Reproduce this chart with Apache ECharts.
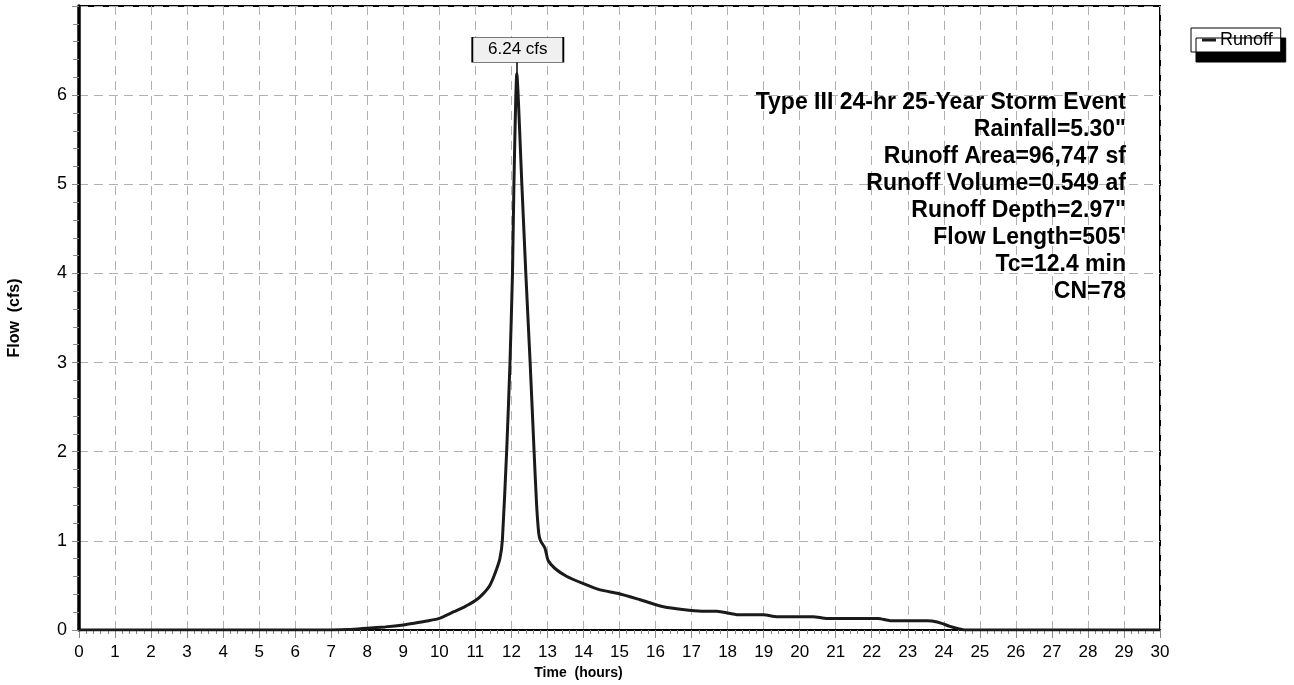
<!DOCTYPE html>
<html>
<head>
<meta charset="utf-8">
<script src="https://cdn.jsdelivr.net/npm/echarts@6/dist/echarts.min.js"></script>
<style>
  html, body { margin: 0; padding: 0; background: #fff; }
  #chart { width: 1294px; height: 685px; }
</style>
</head>
<body>
<div id="chart"></div>
<script>
// Hydrograph data (time in hours, flow in cfs)
var times = [0, 1, 2, 3, 4, 5, 6, 7, 7.5, 8, 8.5, 9, 9.3, 9.65, 10, 10.4, 10.7, 11, 11.2, 11.4, 11.55, 11.68, 11.75, 11.87, 11.96, 12.03, 12.07, 12.15, 12.29, 12.40, 12.52, 12.63, 12.70, 12.76, 12.81, 12.93, 13.02, 13.21, 13.54, 14.0, 14.46, 14.97, 15.57, 16.22, 17.28, 17.7, 18.3, 19.0, 19.36, 20.38, 20.75, 22.18, 22.51, 23.53, 23.67, 23.94, 24.17, 24.4, 24.6, 25, 30];
var flows = [0, 0, 0, 0, 0, 0, 0, 0, 0.005, 0.02, 0.035, 0.056, 0.075, 0.10, 0.13, 0.205, 0.26, 0.33, 0.40, 0.50, 0.64, 0.80, 1.01, 2.02, 2.99, 4.0, 5.0, 6.24, 5.0, 4.0, 3.0, 2.0, 1.4, 1.08, 1.0, 0.92, 0.78, 0.69, 0.60, 0.52, 0.45, 0.41, 0.34, 0.26, 0.21, 0.21, 0.17, 0.17, 0.15, 0.15, 0.13, 0.13, 0.105, 0.105, 0.10, 0.075, 0.04, 0.015, 0, 0, 0];
var seriesName = 'Runoff';
var peakTime = 12.15;
var peakFlow = 6.24;
var peakLabel = '6.24 cfs';
var infoLines = [
  'Type III 24-hr 25-Year Storm Event',
  'Rainfall=5.30"',
  'Runoff Area=96,747 sf',
  'Runoff Volume=0.549 af',
  'Runoff Depth=2.97"',
  'Flow Length=505\'',
  'Tc=12.4 min',
  'CN=78'
];
var xName = 'Time  (hours)';
var yName = 'Flow  (cfs)';

var points = times.map(function (t, i) { return [t, flows[i]]; });
var FONT = 'Arial, "Liberation Sans", sans-serif';

var chart = echarts.init(document.getElementById('chart'), null, { renderer: 'canvas' });

var graphics = infoLines.map(function (s, i) {
  return {
    type: 'text',
    x: 1126,
    y: 103 + i * 27,
    style: {
      x: 0, y: 0,
      text: s,
      fill: '#000',
      font: 'bold 23px ' + FONT,
      align: 'right',
      verticalAlign: 'middle'
    },
    z: 10
  };
});

var option = {
  animation: false,
  backgroundColor: '#fff',
  grid: {
    left: 79, right: 134, top: 6, bottom: 55,
    outerBoundsMode: 'none',
    containLabel: false,
    show: true, borderColor: '#000', borderWidth: 2, backgroundColor: 'transparent'
  },
  legend: {
    data: [seriesName],
    left: 1191, top: 28,
    orient: 'vertical',
    icon: 'rect',
    itemWidth: 14, itemHeight: 3,
    itemGap: 0,
    padding: [3, 8, 3, 11],
    backgroundColor: '#fff',
    borderColor: '#000', borderWidth: 1,
    shadowColor: '#000', shadowBlur: 0, shadowOffsetX: 5, shadowOffsetY: 10,
    textStyle: { fontFamily: FONT, fontSize: 18, color: '#000', padding: [0, 0, 0, -1] },
    selectedMode: false
  },
  xAxis: {
    type: 'value', min: 0, max: 30, interval: 1,
    name: xName, nameLocation: 'middle', nameGap: 35,
    nameTextStyle: { fontFamily: FONT, fontSize: 14, fontWeight: 'bold', color: '#000', padding: [0, 82, 0, 0] },
    axisLine: { show: true, onZero: false, lineStyle: { color: '#000', width: 2 } },
    axisTick: { show: true, length: 8, lineStyle: { color: '#888', width: 1 } },
    minorTick: { show: true, splitNumber: 5, length: 4, lineStyle: { color: '#888', width: 1 } },
    axisLabel: { fontFamily: FONT, fontSize: 17, color: '#000', margin: 14 },
    splitLine: { show: true, lineStyle: { color: '#b0b0b0', type: [9, 6], width: 1 } }
  },
  yAxis: {
    type: 'value', min: 0, max: 7, interval: 1,
    name: yName, nameLocation: 'middle', nameGap: 56,
    nameTextStyle: { fontFamily: FONT, fontSize: 16, fontWeight: 'bold', color: '#000' },
    axisLine: { show: true, lineStyle: { color: '#000', width: 3.5 } },
    axisTick: { show: true, length: 7, lineStyle: { color: '#888', width: 1 } },
    minorTick: { show: true, splitNumber: 5, length: 6, lineStyle: { color: '#888', width: 1 } },
    axisLabel: { fontFamily: FONT, fontSize: 18, color: '#000', margin: 12, showMaxLabel: false },
    splitLine: { show: true, lineStyle: { color: '#b0b0b0', type: [9, 6], width: 1 } }
  },
  series: [{
    name: seriesName,
    type: 'line',
    data: points,
    showSymbol: false,
    symbol: 'none',
    smooth: 0.2,
    lineStyle: { color: '#1a1a1a', width: 3 },
    itemStyle: { color: '#1a1a1a' },
    z: 5,
    markLine: {
      silent: true,
      symbol: ['none', 'none'],
      animation: false,
      lineStyle: { color: '#000', width: 1.5, type: 'solid' },
      label: { show: false },
      data: [[{ coord: [peakTime, peakFlow] }, { coord: [peakTime, peakFlow + 0.15] }]]
    },
    markPoint: {
      silent: true,
      animation: false,
      data: [{
        coord: [peakTime, peakFlow],
        symbol: 'rect',
        symbolSize: [91, 25],
        symbolOffset: [1, -24],
        itemStyle: { color: '#f0f0f0', borderColor: '#000', borderWidth: 1 },
        label: {
          show: true, position: 'inside', formatter: peakLabel,
          fontFamily: FONT, fontSize: 17, color: '#000'
        }
      }]
    }
  }],
  graphic: graphics
};
chart.setOption(option);
</script>
</body>
</html>
